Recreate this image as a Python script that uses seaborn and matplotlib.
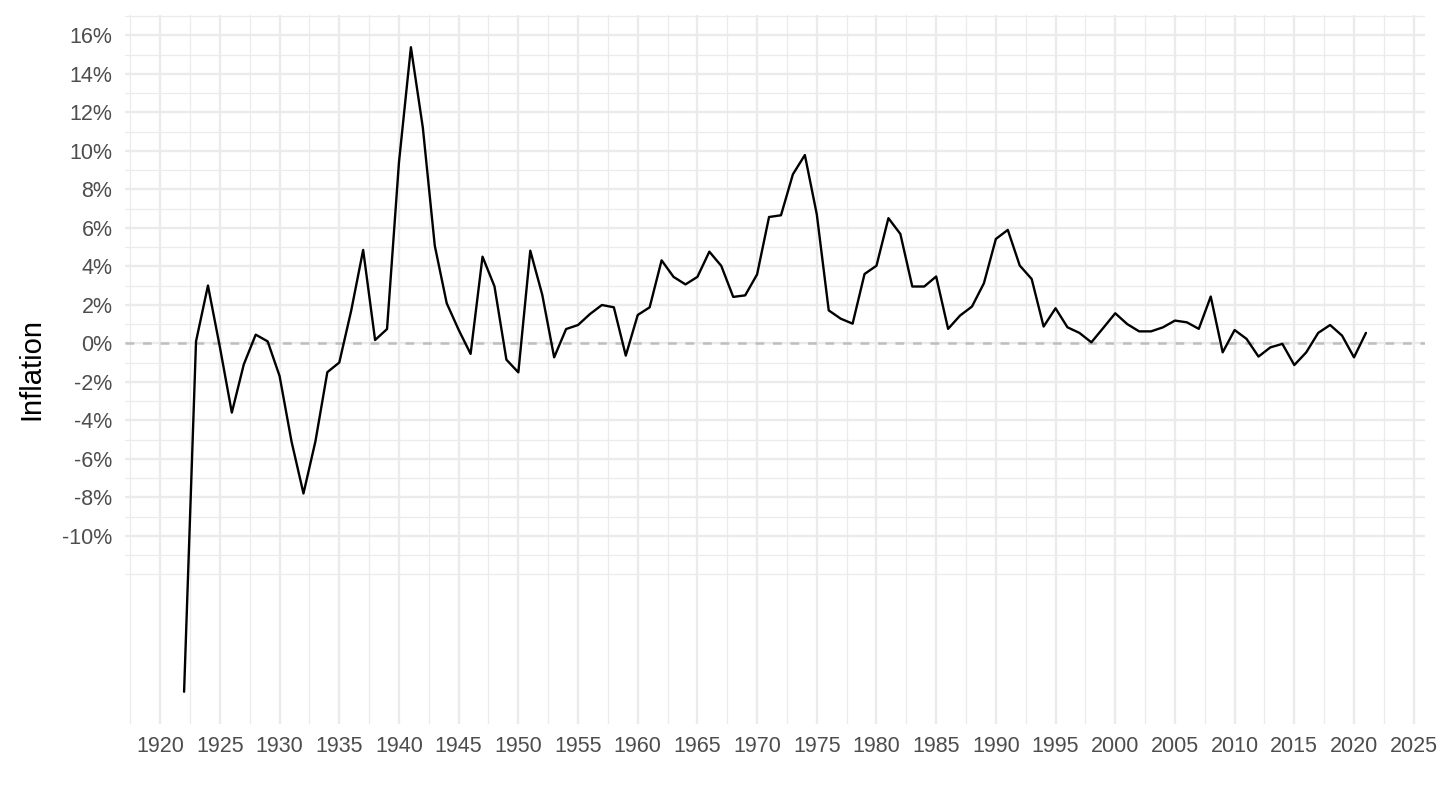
import numpy as np
import pandas as pd
import matplotlib
matplotlib.use("Agg")
import matplotlib.pyplot as plt
from matplotlib.ticker import FuncFormatter
import seaborn as sns

years = list(range(1922, 2022))
inflation = [
    -18.1, 0.1, 3.0, -0.2, -3.6, -1.1, 0.45, 0.1, -1.7, -5.1,   # 1922-1931
    -7.8, -5.1, -1.5, -1.0, 1.7, 4.85, 0.17, 0.74, 9.4, 15.38,  # 1932-1941
    11.2, 5.07, 2.08, 0.7, -0.55, 4.5, 2.96, -0.85, -1.51, 4.81, # 1942-1951
    2.53, -0.73, 0.74, 0.95, 1.52, 1.99, 1.87, -0.64, 1.47, 1.87, # 1952-1961
    4.31, 3.45, 3.06, 3.45, 4.76, 4.02, 2.41, 2.49, 3.58, 6.56,  # 1962-1971
    6.65, 8.78, 9.78, 6.70, 1.71, 1.28, 1.02, 3.6, 4.03, 6.5,    # 1972-1981
    5.68, 2.95, 2.95, 3.47, 0.75, 1.44, 1.91, 3.12, 5.42, 5.89,  # 1982-1991
    4.04, 3.34, 0.87, 1.82, 0.83, 0.54, 0.05, 0.80, 1.56, 1.0,   # 1992-2001
    0.62, 0.62, 0.83, 1.18, 1.09, 0.75, 2.43, -0.47, 0.69, 0.23, # 2002-2011
    -0.69, -0.21, -0.03, -1.13, -0.47, 0.54, 0.95, 0.40, -0.73, 0.54, # 2012-2021
]

x_major = list(range(1920, 2026, 5))
x_minor = [1917.5 + 5 * i for i in range(22)]
y_major = list(range(-10, 17, 2))
y_minor = list(range(-12, 18, 1))

df = pd.DataFrame({"year": years, "inflation": inflation})

sns.set_theme(style="white")
plt.rcParams["font.family"] = ["Liberation Sans", "DejaVu Sans"]

fig = plt.figure(figsize=(14.4, 8.1), dpi=100)
ax = fig.add_axes([0.0868, 0.1062, 0.9896 - 0.0868, 0.9815 - 0.1062])

grid_col = "#EBEBEB"
ax.set_axisbelow(True)
ax.set_xticks(x_major)
ax.set_xticks(x_minor, minor=True)
ax.set_yticks(y_major)
ax.set_yticks(y_minor, minor=True)
ax.grid(which="major", color=grid_col, lw=1.7)
ax.grid(which="minor", color=grid_col, lw=0.9)

ax.axhline(0, color="#BEBEBE", lw=1.8, linestyle=(0, (3.5, 3.5)), zorder=1.5)

sns.lineplot(data=df, x="year", y="inflation", ax=ax, color="black", lw=1.7, zorder=3)

ymin, ymax = min(inflation), max(inflation)
yr = ymax - ymin
ax.set_ylim(ymin - 0.05 * yr, ymax + 0.05 * yr)
xr = years[-1] - years[0]
ax.set_xlim(years[0] - 0.05 * xr, years[-1] + 0.05 * xr)

ax.yaxis.set_major_formatter(FuncFormatter(lambda v, p: f"{v:.0f}%"))
ax.tick_params(axis="both", which="both", length=0, labelsize=15.5, labelcolor="#4D4D4D")
ax.tick_params(axis="x", pad=9)
ax.tick_params(axis="y", pad=9)
for s in ax.spines.values():
    s.set_visible(False)

ax.set_xlabel("")
ax.set_ylabel("Inflation", fontsize=21, color="black", labelpad=12)

fig.savefig("out.png", dpi=100, facecolor="white")
